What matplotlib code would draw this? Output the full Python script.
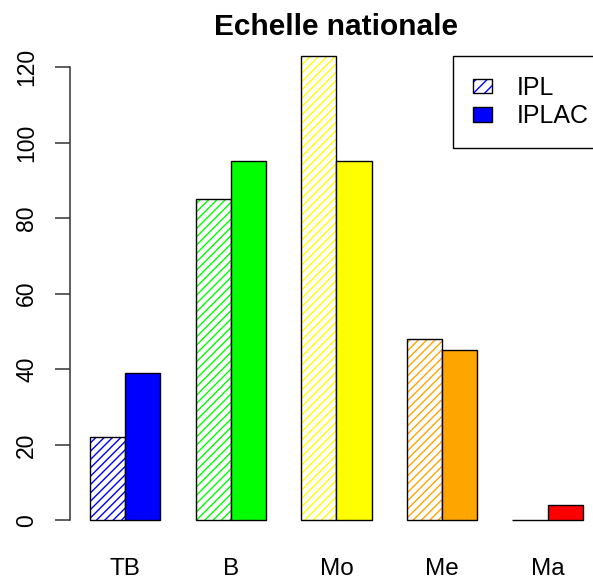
import numpy as np
import matplotlib
matplotlib.use("Agg")
import matplotlib.pyplot as plt
from matplotlib.patches import Patch

plt.rcParams['font.family'] = ['Liberation Sans', 'DejaVu Sans']
plt.rcParams['hatch.linewidth'] = 1.0

# data
categories = ["TB", "B", "Mo", "Me", "Ma"]
ipl = [22, 85, 123, 48, 0]
iplac = [39, 95, 95, 45, 4]
colors = ["#0000FF", "#00FF00", "#FFFF00", "#FFA500", "#FF0000"]

W, H = 593, 582
fig = plt.figure(figsize=(W / 100, H / 100), dpi=100)

# R-like barplot layout: bar width 1, space between groups 1
x_left = 70.3
unit = 35.2
ax = fig.add_axes([x_left / W, 43 / H, (W - x_left) / W, 502 / H])

starts = 1 + 3 * np.arange(len(categories))
ax.bar(starts + 0.5, ipl, width=1, color="white", edgecolor=colors, hatch="////", linewidth=0)
ax.bar(starts + 0.5, ipl, width=1, fill=False, edgecolor="black", linewidth=1)
ax.bar(starts + 1.5, iplac, width=1, color=colors, edgecolor="black", linewidth=1)

ax.set_xlim(0.44, 0.44 + (W - x_left) / unit)
ax.set_ylim(-4.92, 127.92)

for s in ["top", "right", "bottom"]:
    ax.spines[s].set_visible(False)
ax.spines["left"].set_bounds(0, 120)
ax.spines["left"].set_color("#333333")
ax.spines["left"].set_linewidth(1.1)

ax.set_yticks(np.arange(0, 121, 20))
ax.tick_params(axis="y", length=11, width=1.1, color="#333333", labelsize=16.5, pad=12)
for lab in ax.get_yticklabels():
    lab.set_rotation(90)
    lab.set_va("center")

ax.set_xticks(starts + 1)
ax.set_xticklabels(categories)
ax.tick_params(axis="x", length=0, labelsize=17.5, pad=13.5)

fig.text(335.5 / W, 1 - 35 / H, "Echelle nationale", ha="center", va="baseline",
         fontsize=21.5, fontweight="bold")

h_ipl = (Patch(facecolor="white", edgecolor="blue", hatch="///", linewidth=0),
         Patch(fill=False, edgecolor="black", linewidth=1))
h_iplac = Patch(facecolor="blue", edgecolor="black", linewidth=1)
leg = ax.legend([h_ipl, h_iplac], ["IPL", "IPLAC"], loc="upper left",
                bbox_to_anchor=(453 / W, 1 - 55.7 / H), bbox_transform=fig.transFigure,
                borderaxespad=0, fontsize=18, handlelength=0.76, handleheight=0.52,
                handletextpad=1.0, borderpad=0.8, labelspacing=0.18, fancybox=False,
                framealpha=1, edgecolor="black")
leg.get_frame().set_linewidth(1)

fig.savefig("out.png", dpi=100)
